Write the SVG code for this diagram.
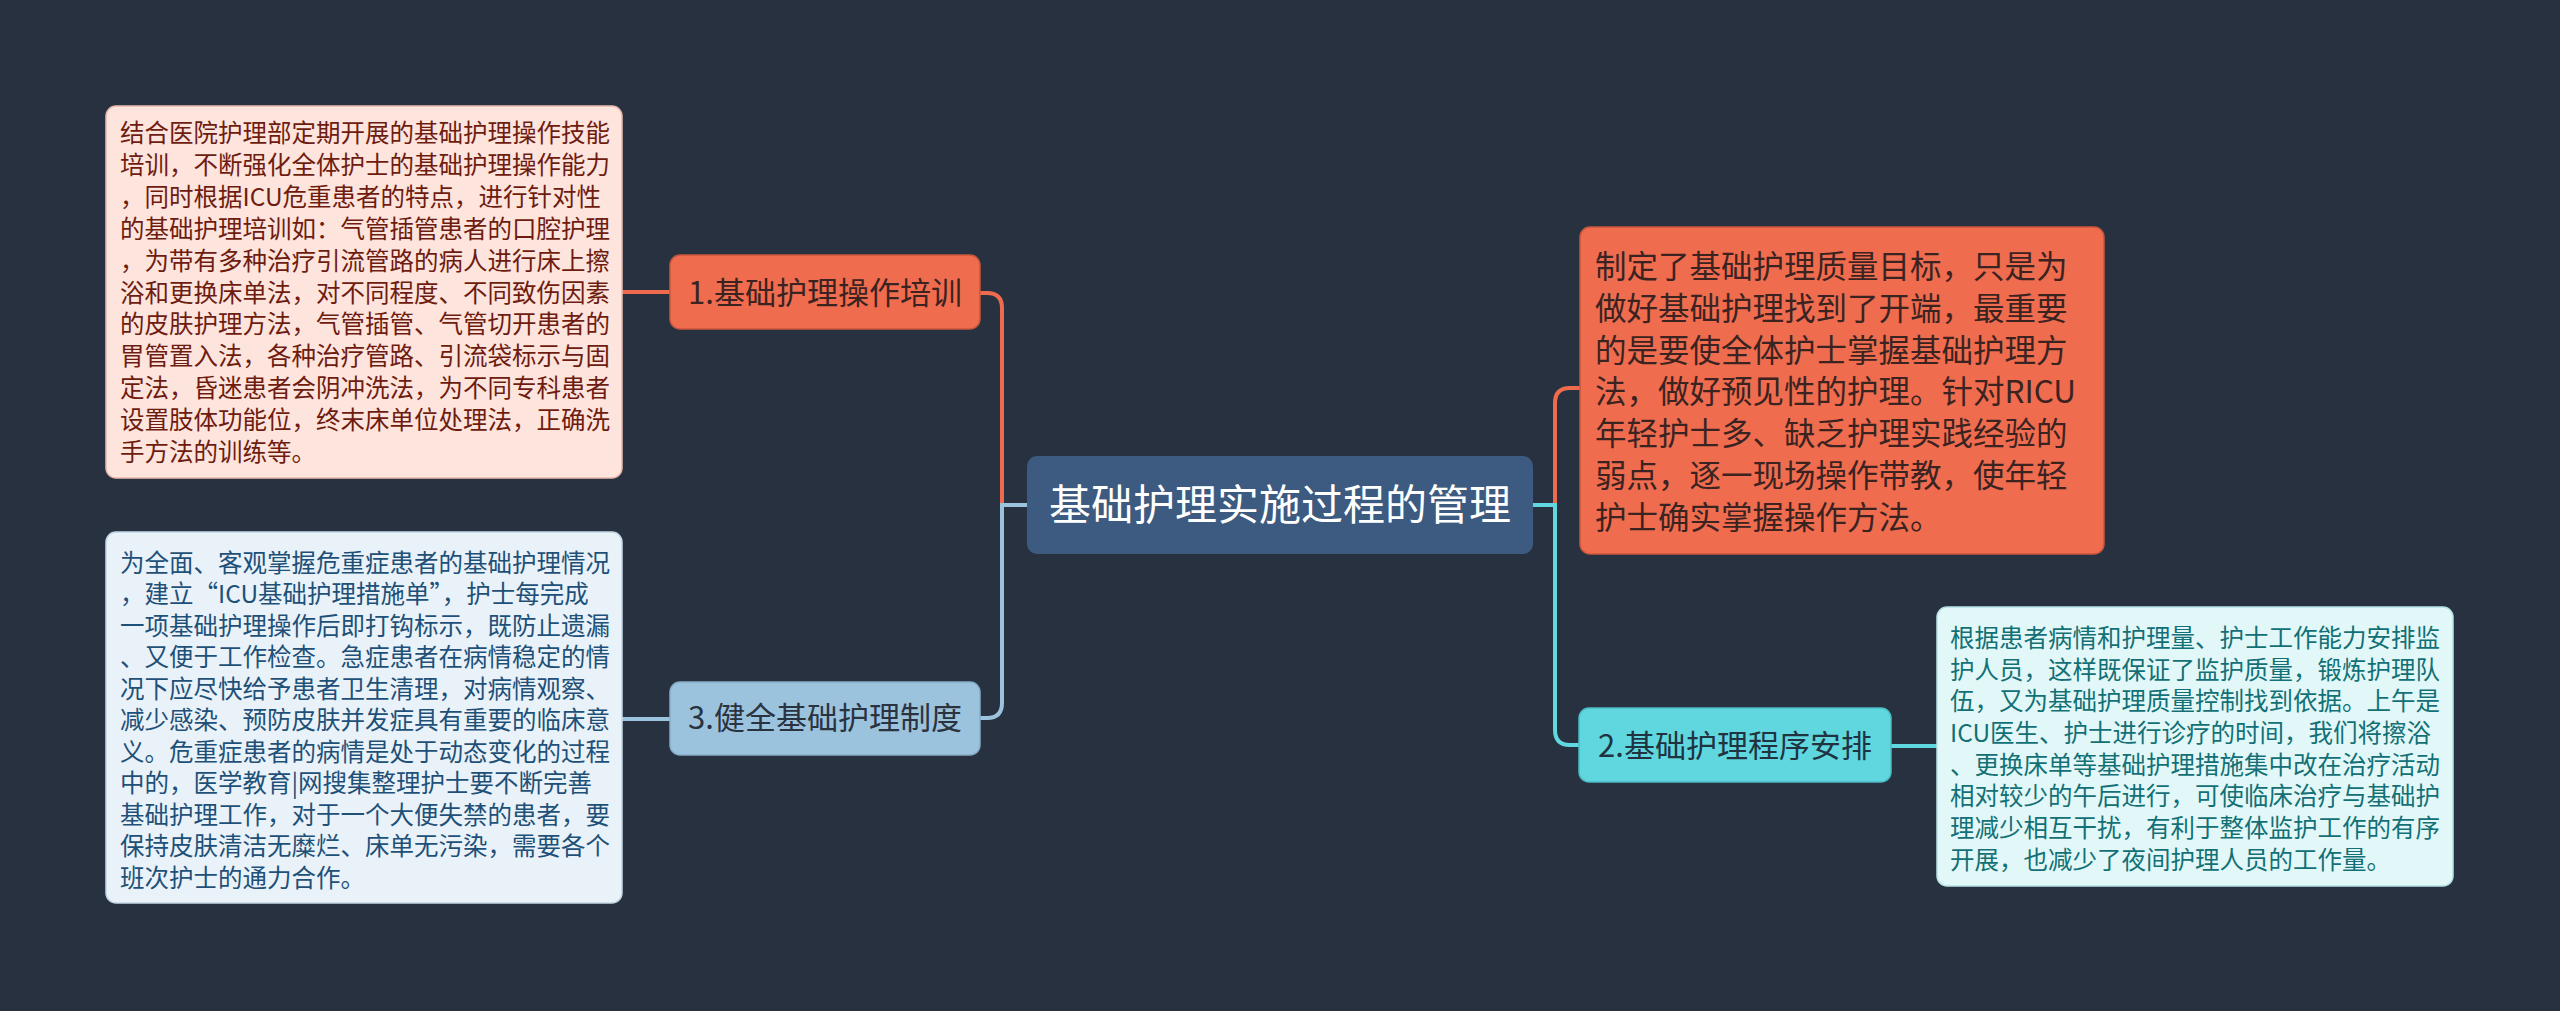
<svg xmlns="http://www.w3.org/2000/svg" width="2560" height="1011" viewBox="0 0 2560 1011">
<style>
text{font-family:"Noto Sans CJK SC","Noto Sans",sans-serif}
.leaf{font-size:24.5px}
.c{fill:none;stroke-width:4;stroke-linecap:round}
</style>
<rect x="0" y="0" width="2560" height="1011" fill="#283140"/>
<g id="connectors">
<path class="c" stroke="#ee6c4d" d="M1002,505 V308 Q1002,293 987,293 H980"/>
<path class="c" stroke="#9cc3dd" d="M1027,505 H1002 V703 Q1002,718 987,718 H980"/>
<path class="c" stroke="#ee6c4d" d="M1555,505 V403 Q1555,388 1570,388 H1580"/>
<path class="c" stroke="#5fd8df" d="M1533,505 H1555 V730 Q1555,745 1570,745 H1579"/>
<path class="c" stroke="#ee6c4d" d="M670,292 H622"/>
<path class="c" stroke="#9cc3dd" d="M670,719 H622"/>
<path class="c" stroke="#5fd8df" d="M1891,746 H1937"/>
</g>
<g id="center">
<rect x="1027" y="456" width="506" height="98" rx="10" fill="#3d5a80"/>
<text x="1280" y="520" font-size="42" fill="#ffffff" text-anchor="middle">基础护理实施过程的管理</text>
</g>
<g id="n1">
<rect x="670" y="255" width="310" height="74" rx="10" fill="#ef6c4f" stroke="#c9553d" stroke-width="1.5"/>
<text x="825" y="304" font-size="31" fill="#3b2321" text-anchor="middle">1.基础护理操作培训</text>
</g>
<g id="n3">
<rect x="670" y="682" width="310" height="73" rx="10" fill="#9cc3dd" stroke="#86adc8" stroke-width="1.5"/>
<text x="825" y="729" font-size="31" fill="#2a3340" text-anchor="middle">3.健全基础护理制度</text>
</g>
<g id="n2">
<rect x="1579" y="708" width="312" height="74" rx="10" fill="#60d7de" stroke="#4cbcc3" stroke-width="1.5"/>
<text x="1735" y="757" font-size="31" fill="#1f3340" text-anchor="middle">2.基础护理程序安排</text>
</g>
<g id="r1">
<rect x="1580" y="227" width="524" height="327" rx="10" fill="#ef6c4f" stroke="#c9553d" stroke-width="1.5"/>
<text font-size="31.5" fill="#3b2321">
<tspan x="1595" y="278">制定了基础护理质量目标，只是为</tspan>
<tspan x="1595" y="320">做好基础护理找到了开端，最重要</tspan>
<tspan x="1595" y="362">的是要使全体护士掌握基础护理方</tspan>
<tspan x="1595" y="403">法，做好预见性的护理。针对RICU</tspan>
<tspan x="1595" y="445">年轻护士多、缺乏护理实践经验的</tspan>
<tspan x="1595" y="487">弱点，逐一现场操作带教，使年轻</tspan>
<tspan x="1595" y="529">护士确实掌握操作方法。</tspan>
</text>
</g>
<g id="leaf1">
<rect x="106" y="106" width="516" height="372" rx="10" fill="#fde4dd" stroke="#e9b9ad" stroke-width="1.5"/>
<text class="leaf" fill="#6f1c10">
<tspan x="120" y="142">结合医院护理部定期开展的基础护理操作技能</tspan>
<tspan x="120" y="174">培训，不断强化全体护士的基础护理操作能力</tspan>
<tspan x="120" y="206">，同时根据ICU危重患者的特点，进行针对性</tspan>
<tspan x="120" y="238">的基础护理培训如：气管插管患者的口腔护理</tspan>
<tspan x="120" y="270">，为带有多种治疗引流管路的病人进行床上擦</tspan>
<tspan x="120" y="302">浴和更换床单法，对不同程度、不同致伤因素</tspan>
<tspan x="120" y="333">的皮肤护理方法，气管插管、气管切开患者的</tspan>
<tspan x="120" y="365">胃管置入法，各种治疗管路、引流袋标示与固</tspan>
<tspan x="120" y="397">定法，昏迷患者会阴冲洗法，为不同专科患者</tspan>
<tspan x="120" y="429">设置肢体功能位，终末床单位处理法，正确洗</tspan>
<tspan x="120" y="461">手方法的训练等。</tspan>
</text>
</g>
<g id="leaf3">
<rect x="106" y="532" width="516" height="371" rx="10" fill="#e9f2f8" stroke="#c3d6e4" stroke-width="1.5"/>
<text class="leaf" fill="#1e5078">
<tspan x="120" y="572">为全面、客观掌握危重症患者的基础护理情况</tspan>
<tspan x="120" y="603">，建立“ICU基础护理措施单”，护士每完成</tspan>
<tspan x="120" y="635">一项基础护理操作后即打钩标示，既防止遗漏</tspan>
<tspan x="120" y="666">、又便于工作检查。急症患者在病情稳定的情</tspan>
<tspan x="120" y="698">况下应尽快给予患者卫生清理，对病情观察、</tspan>
<tspan x="120" y="729">减少感染、预防皮肤并发症具有重要的临床意</tspan>
<tspan x="120" y="761">义。危重症患者的病情是处于动态变化的过程</tspan>
<tspan x="120" y="792">中的，医学教育|网搜集整理护士要不断完善</tspan>
<tspan x="120" y="824">基础护理工作，对于一个大便失禁的患者，要</tspan>
<tspan x="120" y="855">保持皮肤清洁无糜烂、床单无污染，需要各个</tspan>
<tspan x="120" y="887">班次护士的通力合作。</tspan>
</text>
</g>
<g id="leaf2">
<rect x="1937" y="607" width="516" height="279" rx="10" fill="#e2f8f8" stroke="#b5e2e4" stroke-width="1.5"/>
<text class="leaf" fill="#127076">
<tspan x="1950" y="647">根据患者病情和护理量、护士工作能力安排监</tspan>
<tspan x="1950" y="679">护人员，这样既保证了监护质量，锻炼护理队</tspan>
<tspan x="1950" y="710">伍，又为基础护理质量控制找到依据。上午是</tspan>
<tspan x="1950" y="742">ICU医生、护士进行诊疗的时间，我们将擦浴</tspan>
<tspan x="1950" y="774">、更换床单等基础护理措施集中改在治疗活动</tspan>
<tspan x="1950" y="805">相对较少的午后进行，可使临床治疗与基础护</tspan>
<tspan x="1950" y="837">理减少相互干扰，有利于整体监护工作的有序</tspan>
<tspan x="1950" y="869">开展，也减少了夜间护理人员的工作量。</tspan>
</text>
</g>
</svg>
